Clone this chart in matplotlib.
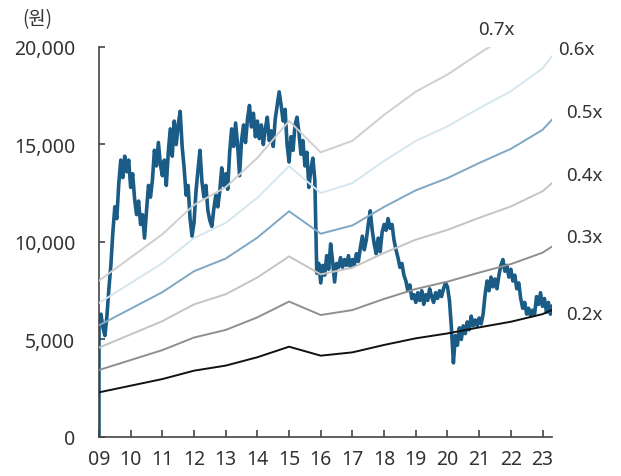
import matplotlib
matplotlib.use("Agg")
import matplotlib.pyplot as plt
import numpy as np

plt.rcParams['font.family'] = ['Noto Sans', 'Noto Sans CJK KR', 'DejaVu Sans']

# book value per share at each year start (09 .. 23) and the last date
bv_years = [9, 10, 11, 12, 13, 14, 15, 16, 17, 18, 19, 20, 21, 22, 23, 23.3]
bvps = [11450, 13150, 14850, 17000, 18300, 20450, 23150, 20850,
        21700, 23600, 25300, 26550, 28100, 29550, 31500, 32550]

multiples = [0.2, 0.3, 0.4, 0.5, 0.6, 0.7]
band_labels = ['0.2x', '0.3x', '0.4x', '0.5x', '0.6x', '0.7x']
band_colors = ['#111111', '#8f8f8f', '#c4c4c4', '#7ea7c5', '#d6e6ef', '#cfcfcf']

# share price, 16 samples per year
price_2009 = [5800, 6300, 5600, 5200, 6200, 7600, 8800, 10500,
              11800, 11200, 13000, 14200, 13300, 14400, 13600, 14200]
price_2010 = [12800, 13500, 12200, 11400, 12100, 10900, 11400, 10200,
              11600, 12900, 12300, 13200, 14700, 13900, 15100, 14000]
price_2011 = [13400, 14200, 12900, 14600, 15800, 14400, 16200, 15000,
              16000, 16700, 14900, 13800, 12400, 12900, 11200, 10300]
price_2012 = [11000, 12600, 13700, 14700, 13100, 12300, 12900, 11600,
              11100, 10800, 11700, 12400, 11800, 12600, 13800, 12900]
price_2013 = [13500, 12700, 14600, 15800, 14900, 16100, 15000, 13400,
              15200, 16000, 15100, 16300, 17000, 15900, 16600, 15400]
price_2014 = [16200, 15300, 16000, 15000, 15800, 16400, 15200, 15700,
              14900, 16300, 17000, 17700, 17000, 16200, 16800, 15000]
price_2015 = [14100, 15400, 14700, 16000, 16400, 15600, 14500, 15200,
              13900, 14600, 12800, 13700, 14300, 13200, 8400, 8900]
price_2016 = [7900, 8800, 8300, 9300, 8600, 9900, 9000, 7950,
              8900, 8700, 9200, 8700, 9100, 8800, 9300, 8700]
price_2017 = [9100, 8800, 9400, 9000, 9700, 10300, 9600, 10100,
              10900, 11600, 10600, 9900, 9400, 10200, 9500, 10500]
price_2018 = [10900, 10600, 11200, 10700, 10900, 10100, 9600, 9200,
              8700, 8900, 8300, 8000, 7500, 7800, 7100, 7300]
price_2019 = [6900, 7400, 7000, 7500, 6800, 7300, 7000, 7600,
              7200, 6900, 7400, 7100, 7500, 7200, 7600, 7900]
price_2020 = [7700, 7000, 5600, 3800, 5200, 4700, 5600, 5000,
              5700, 5300, 5900, 5500, 6200, 5700, 6000, 5700]
price_2021 = [6100, 5800, 6300, 7300, 8000, 7500, 8200, 7700,
              8100, 7600, 8300, 8800, 9100, 8500, 8800, 8200]
price_2022 = [8600, 8000, 8300, 7600, 7900, 7100, 6600, 6900,
              6300, 6600, 6200, 6500, 6300, 7200, 6800, 7400]
price_2023 = [6700, 7100, 6400, 6900, 6300, 6700]

price = [0] + (price_2009 + price_2010 + price_2011 + price_2012 + price_2013
               + price_2014 + price_2015 + price_2016 + price_2017 + price_2018
               + price_2019 + price_2020 + price_2021 + price_2022 + price_2023)
t = np.concatenate([[9.0], 9 + np.arange(len(price) - 1) / 16])

fig = plt.figure(figsize=(6.21, 4.77), dpi=100)
ax = fig.add_axes([0.1594, 0.0818, 0.7295, 0.8176])

ax.plot(t, price, color='#1a5c85', lw=2.6, zorder=2)

bv = np.array(bvps, dtype=float)
for m, c in zip(multiples, band_colors):
    ax.plot(bv_years, bv * m, color=c, lw=1.4, zorder=3)

# band labels on the right
label_pos = [(23.76, 6310), (23.76, 10260), (23.76, 13440),
             (23.76, 16670), (23.48, 19900), (20.96, 20920)]
for lab, (x, y) in zip(band_labels, label_pos):
    ax.text(x, y, lab, fontsize=13.5, color='#333333', ha='left', va='center',
            clip_on=False)

ax.set_xlim(9, 23.3)
ax.set_ylim(0, 20000)
ax.set_xticks(range(9, 24))
ax.set_xticklabels(['%02d' % y for y in range(9, 24)])
ax.set_yticks([0, 5000, 10000, 15000, 20000])
ax.set_yticklabels(['0', '5,000', '10,000', '15,000', '20,000'])

for s in ['top', 'right']:
    ax.spines[s].set_visible(False)
for s in ['left', 'bottom']:
    ax.spines[s].set_color('#444444')
    ax.spines[s].set_linewidth(1.2)

ax.tick_params(axis='x', direction='in', length=5, width=1.2, color='#444444',
               pad=9, labelsize=14, labelcolor='#333333')
ax.tick_params(axis='y', direction='in', length=4, width=1.2, color='#444444',
               pad=17, labelsize=14, labelcolor='#333333')

fig.text(0.06, 0.958, '(원)', fontsize=13.5, color='#333333', ha='center', va='center',
         family=['Noto Sans CJK KR', 'DejaVu Sans'])

fig.savefig('out.png', dpi=100)
